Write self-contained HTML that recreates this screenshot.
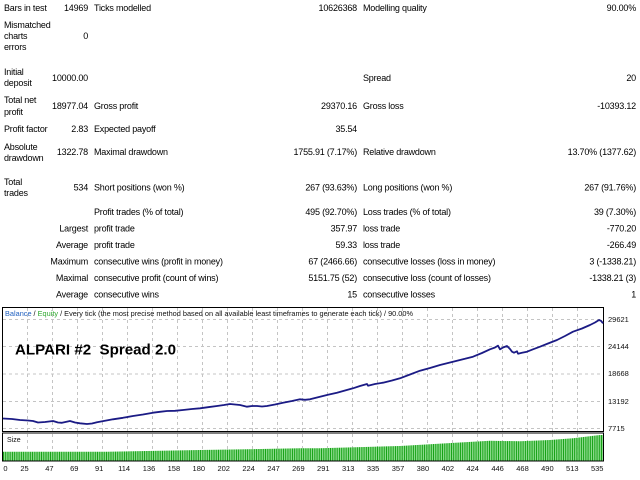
<!DOCTYPE html>
<html><head><meta charset="utf-8"><style>
html,body{margin:0;padding:0;background:#fff;}
svg{display:block;}
.t{font-family:"Liberation Sans",Arial,sans-serif;font-size:9px;letter-spacing:-0.2px;fill:#000;}
.e{text-anchor:end;}
.a{font-family:"Liberation Sans",Arial,sans-serif;font-size:7.5px;fill:#111;}
</style></head><body>
<svg width="640" height="480" viewBox="0 0 640 480" xmlns="http://www.w3.org/2000/svg">
<rect width="640" height="480" fill="#fff"/>
<g class="t">
<text x="4" y="11">Bars in test</text><text x="88" y="11" class="e">14969</text><text x="94" y="11">Ticks modelled</text><text x="357" y="11" class="e">10626368</text><text x="363" y="11">Modelling quality</text><text x="636" y="11" class="e">90.00%</text>
<text x="4" y="28">Mismatched</text><text x="4" y="39">charts</text><text x="4" y="50">errors</text><text x="88" y="39" class="e">0</text>
<text x="4" y="75">Initial</text><text x="4" y="86">deposit</text><text x="88" y="81" class="e">10000.00</text><text x="363" y="81">Spread</text><text x="636" y="81" class="e">20</text>
<text x="4" y="103">Total net</text><text x="4" y="115">profit</text><text x="88" y="109" class="e">18977.04</text><text x="94" y="109">Gross profit</text><text x="357" y="109" class="e">29370.16</text><text x="363" y="109">Gross loss</text><text x="636" y="109" class="e">-10393.12</text>
<text x="4" y="132">Profit factor</text><text x="88" y="132" class="e">2.83</text><text x="94" y="132">Expected payoff</text><text x="357" y="132" class="e">35.54</text>
<text x="4" y="150">Absolute</text><text x="4" y="161">drawdown</text><text x="88" y="155" class="e">1322.78</text><text x="94" y="155">Maximal drawdown</text><text x="357" y="155" class="e">1755.91 (7.17%)</text><text x="363" y="155">Relative drawdown</text><text x="636" y="155" class="e">13.70% (1377.62)</text>
<text x="4" y="185">Total</text><text x="4" y="196">trades</text><text x="88" y="190.5" class="e">534</text><text x="94" y="190.5">Short positions (won %)</text><text x="357" y="190.5" class="e">267 (93.63%)</text><text x="363" y="190.5">Long positions (won %)</text><text x="636" y="190.5" class="e">267 (91.76%)</text>
<text x="94" y="215">Profit trades (% of total)</text><text x="357" y="215" class="e">495 (92.70%)</text><text x="363" y="215">Loss trades (% of total)</text><text x="636" y="215" class="e">39 (7.30%)</text>
<text x="88" y="231.5" class="e">Largest</text><text x="94" y="231.5">profit trade</text><text x="357" y="231.5" class="e">357.97</text><text x="363" y="231.5">loss trade</text><text x="636" y="231.5" class="e">-770.20</text>
<text x="88" y="248" class="e">Average</text><text x="94" y="248">profit trade</text><text x="357" y="248" class="e">59.33</text><text x="363" y="248">loss trade</text><text x="636" y="248" class="e">-266.49</text>
<text x="88" y="264.5" class="e">Maximum</text><text x="94" y="264.5">consecutive wins (profit in money)</text><text x="357" y="264.5" class="e">67 (2466.66)</text><text x="363" y="264.5">consecutive losses (loss in money)</text><text x="636" y="264.5" class="e">3 (-1338.21)</text>
<text x="88" y="281" class="e">Maximal</text><text x="94" y="281">consecutive profit (count of wins)</text><text x="357" y="281" class="e">5151.75 (52)</text><text x="363" y="281">consecutive loss (count of losses)</text><text x="636" y="281" class="e">-1338.21 (3)</text>
<text x="88" y="297.5" class="e">Average</text><text x="94" y="297.5">consecutive wins</text><text x="357" y="297.5" class="e">15</text><text x="363" y="297.5">consecutive losses</text><text x="636" y="297.5" class="e">1</text>
</g>
<defs>
<pattern id="bars" x="3" y="0" width="2.24" height="480" patternUnits="userSpaceOnUse">
<rect x="0" y="0" width="1.12" height="480" fill="#0e9e0e"/>
<rect x="1.12" y="0" width="1.12" height="480" fill="#8cdc8c"/>
</pattern>
</defs>
<!-- grid main -->
<g stroke="#c4c4c4" stroke-width="1" stroke-dasharray="3,3" fill="none">
<path d="M3 319.5H603M3 346.5H603M3 374H603M3 401.5H603M3 428.5H603"/>
<path d="M27.5 308V431M52.5 308V431M77.5 308V431M102.5 308V431M127.5 308V431M152.5 308V431M177.5 308V431M202.5 308V431M227.5 308V431M252.5 308V431M277.5 308V431M302.5 308V431M327.5 308V431M352.5 308V431M377.5 308V431M402.5 308V431M427.5 308V431M452.5 308V431M477.5 308V431M502.5 308V431M527.5 308V431M552.5 308V431M577.5 308V431"/>
<path d="M27.5 434V460M52.5 434V460M77.5 434V460M102.5 434V460M127.5 434V460M152.5 434V460M177.5 434V460M202.5 434V460M227.5 434V460M252.5 434V460M277.5 434V460M302.5 434V460M327.5 434V460M352.5 434V460M377.5 434V460M402.5 434V460M427.5 434V460M452.5 434V460M477.5 434V460M502.5 434V460M527.5 434V460M552.5 434V460M577.5 434V460"/>
</g>
<!-- size bars -->
<polygon fill="url(#bars)" points="3,460.5 3,451.7 107,451.7 200,450 300,448.3 320,448.3 400,446 447,443.3 490,440.7 520,441.3 550,440 573,438.3 600,435 603,435 603,460.5"/>
<!-- borders -->
<rect x="2.5" y="307.5" width="601" height="124" fill="none" stroke="#000" stroke-width="1"/>
<rect x="2.5" y="433" width="601" height="28" fill="none" stroke="#000" stroke-width="1"/>
<!-- balance -->
<polyline fill="none" stroke="#1b1b85" stroke-width="1.8" stroke-linejoin="round" points="3,418.5 12,419 20,420 28,420.5 33,421 38,422.5 45,422 53,421 58,422.5 62,422.8 70,421 75,422.5 80,423.3 87,424 92,423.5 97,422.3 105,420.8 113,419.3 123,417.8 133,416 143,414.5 153,412.7 160,411.8 167,411 175,410.8 183,410 192,409 200,408.3 208,407.2 217,406 224,405 230,404 235,404.5 240,405 247,406.7 252,406 257,406 262,406.5 267,406 275,404.5 283,402.7 292,401 300,399.3 305,399.8 310,399.3 320,396.7 328,394.8 337,392.7 345,390.5 353,388.3 360,386 367,384 368,385.7 375,384 383,382.7 392,380.5 400,378.3 410,374.5 420,370.7 430,368 440,365 448,363 457,360.7 465,358.8 473,356.7 482,353 490,349.3 495,347.5 498,345.7 500,349.3 503,347.5 507,346 510,349 512,351.7 514,352.7 517,351.3 518,353.7 522,352.8 527,351.7 533,349.3 540,346.7 548,343.5 557,340 565,336 573,331.7 582,328.5 590,325 595,322.5 599,320 601,320.8 603,323.3"/>
<!-- legend -->
<text class="a" x="5" y="316" textLength="408" lengthAdjust="spacingAndGlyphs"><tspan fill="#1f5fbf">Balance</tspan> / <tspan fill="#2fa82f">Equity</tspan> / Every tick (the most precise method based on all available least timeframes to generate each tick) / 90.00%</text>
<text x="15" y="354.5" textLength="161" lengthAdjust="spacingAndGlyphs" style="font-family:'Liberation Sans',Arial,sans-serif;font-weight:bold;font-size:15px;fill:#000;">ALPARI #2&#160; Spread 2.0</text>
<text class="a" x="7" y="442" style="font-size:7px">Size</text>
<!-- y labels -->
<g class="a">
<text x="608" y="322">29621</text>
<text x="608" y="349">24144</text>
<text x="608" y="376">18668</text>
<text x="608" y="404">13192</text>
<text x="608" y="431">7715</text>
</g>
<!-- x labels -->
<g class="a" text-anchor="middle">
<text x="5.5" y="471">0</text>
<text x="24.5" y="471">25</text>
<text x="49.4" y="471">47</text>
<text x="74.3" y="471">69</text>
<text x="99.2" y="471">91</text>
<text x="124.1" y="471">114</text>
<text x="149" y="471">136</text>
<text x="173.9" y="471">158</text>
<text x="198.8" y="471">180</text>
<text x="223.7" y="471">202</text>
<text x="248.6" y="471">224</text>
<text x="273.5" y="471">247</text>
<text x="298.4" y="471">269</text>
<text x="323.3" y="471">291</text>
<text x="348.2" y="471">313</text>
<text x="373.1" y="471">335</text>
<text x="398" y="471">357</text>
<text x="422.9" y="471">380</text>
<text x="447.8" y="471">402</text>
<text x="472.7" y="471">424</text>
<text x="497.6" y="471">446</text>
<text x="522.5" y="471">468</text>
<text x="547.4" y="471">490</text>
<text x="572.3" y="471">513</text>
<text x="597.2" y="471">535</text>
</g>
</svg>
</body></html>
